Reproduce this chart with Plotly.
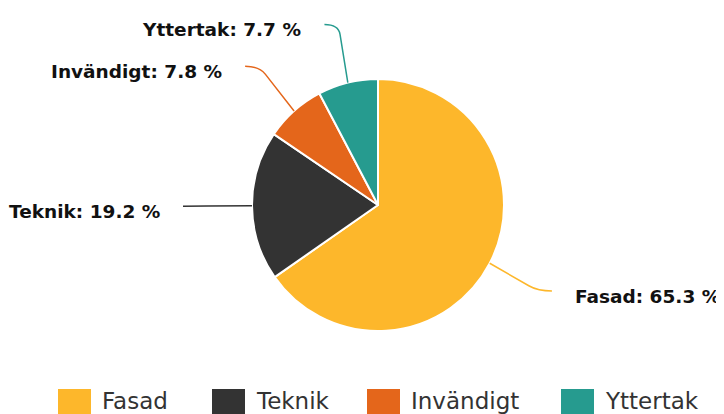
import math
import plotly.graph_objects as go

categories = ["Fasad", "Teknik", "Invändigt", "Yttertak"]
values = [65.3, 19.2, 7.8, 7.7]
colors = ["#FDB72B", "#333333", "#E4661B", "#269B8F"]
legend_x = [58, 212, 367, 561]  # legend square left positions (px)

W, H = 724, 414
OFF = 8          # page body margin offset
CX, CY, R = 378 - OFF, 205 - OFF, 126
D = 186          # label distance
EXTRA = 9
CROOK = 14
CORNER = 10
GAP = 21


def px(x):
    return x / W


def py(y):
    return 1 - y / H


fig = go.Figure()
fig.add_trace(go.Pie(
    labels=categories, values=values, sort=False, direction="clockwise",
    rotation=0, textinfo="none", hoverinfo="label+percent",
    marker=dict(colors=colors, line=dict(color="white", width=2)),
    domain=dict(x=[px(CX - R), px(CX + R)], y=[py(CY + R), py(CY - R)]),
    showlegend=False,
))

shapes = []
annotations = []
total = sum(values)
cum = 0
for cat, v, col in zip(categories, values, colors):
    mid = (cum + v / 2) / total * 2 * math.pi
    cum += v
    s, c = math.sin(mid), math.cos(mid)
    side = 1 if s >= 0 else -1
    p0 = (CX + R * s, CY - R * c)
    p2 = (CX + side * (abs(s) * D + EXTRA), CY - D * c)
    corner = (p2[0] - side * CROOK, p2[1])
    dx, dy = p0[0] - corner[0], p0[1] - corner[1]
    L = math.hypot(dx, dy) or 1
    b = (corner[0] + dx / L * CORNER, corner[1] + dy / L * CORNER)
    path = (f"M {px(p0[0])},{py(p0[1])} L {px(b[0])},{py(b[1])} "
            f"Q {px(corner[0])},{py(corner[1])} {px(p2[0])},{py(p2[1])}")
    shapes.append(dict(type="path", path=path, xref="paper", yref="paper",
                       line=dict(color=col, width=1.5)))
    annotations.append(dict(
        x=px(p2[0] + side * GAP), y=py(p2[1] + 5), xref="paper", yref="paper",
        text=f"{cat}: {v} %", showarrow=False,
        xanchor="left" if side > 0 else "right", yanchor="middle",
        font=dict(family="DejaVu Sans", size=18.5, color="#111111", weight="bold"),
    ))

# custom legend
SQ = 33
LY = 389 - OFF
for cat, col, lx in zip(categories, colors, legend_x):
    x0 = lx - OFF
    shapes.append(dict(type="rect", xref="paper", yref="paper",
                       x0=px(x0), x1=px(x0 + SQ), y0=py(LY + SQ), y1=py(LY),
                       fillcolor=col, line=dict(width=0)))
    annotations.append(dict(
        x=px(x0 + SQ + 9), y=py(LY + 12), xref="paper", yref="paper",
        text=cat, showarrow=False, xanchor="left", yanchor="middle",
        font=dict(family="DejaVu Sans", size=23, color="#333333"),
    ))

fig.update_layout(
    width=W, height=H, margin=dict(l=0, r=0, t=0, b=0),
    paper_bgcolor="white", plot_bgcolor="white",
    shapes=shapes, annotations=annotations, showlegend=False,
)
fig.write_html("out.html")
